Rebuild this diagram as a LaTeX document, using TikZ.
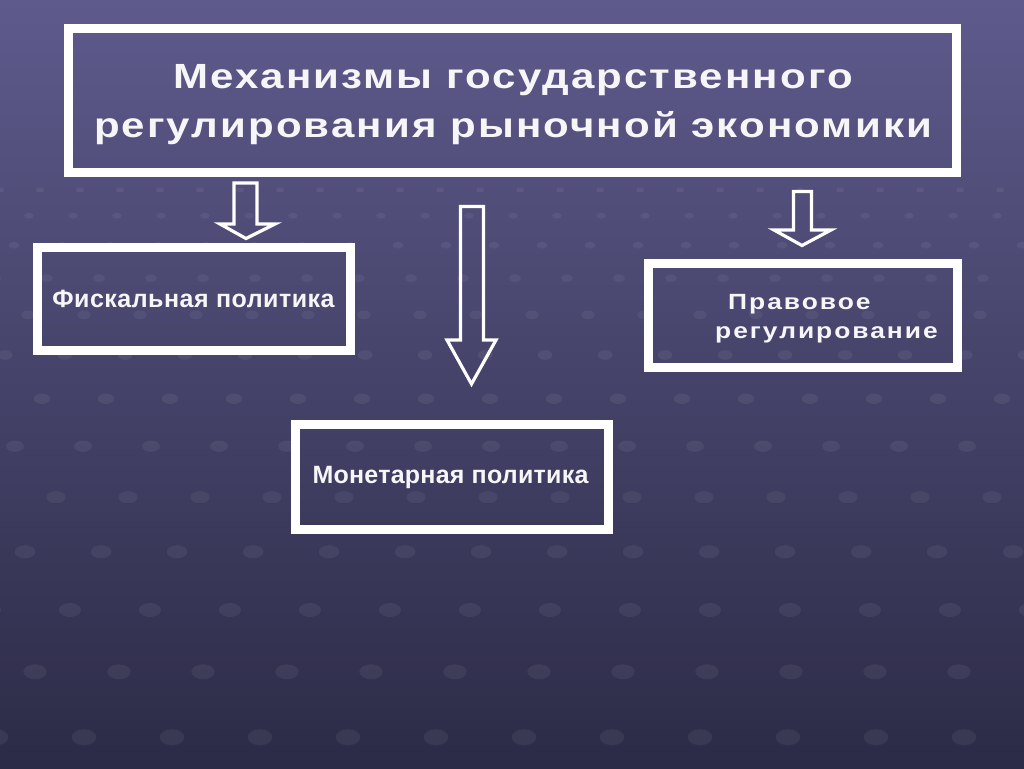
\documentclass[tikz,border=0pt]{standalone}
\usepackage{fontspec}
\setmainfont{Liberation Sans}
\newfontfamily\titlefont[FakeStretch=1.2,LetterSpace=6]{Liberation Sans}
\newfontfamily\lawfont[FakeStretch=1.2,LetterSpace=9]{Liberation Sans}
\newfontfamily\fiscfont[LetterSpace=2]{Liberation Sans}
\newfontfamily\monfont[LetterSpace=1]{Liberation Sans}
\definecolor{bgtop}{RGB}{94,90,140}
\definecolor{bgmid}{RGB}{70,68,110}
\definecolor{bgbot}{RGB}{44,43,70}
\definecolor{txt}{RGB}{246,246,248}
\tikzset{
  framebox/.style={draw=white,line width=9pt},
  blockarrow/.style={draw=white,line width=3.2pt,line join=miter},
  boxtext/.style={text=txt,inner sep=0pt},
  texdot/.style={fill=white,fill opacity=0.06}
}
\begin{document}
\begin{tikzpicture}[x=1pt,y=-1pt]
\useasboundingbox (0,0) rectangle (1024,768);
\shade[top color=bgtop,middle color=bgmid,bottom color=bgbot] (0,0) rectangle (1024,768);
% background texture (faint dot lattice)
\foreach \k in {0,...,13}{
  \pgfmathsetmacro{\yy}{190+\k*(24+1.8*\k)}
  \pgfmathsetmacro{\ss}{40+4*\k}
  \pgfmathsetmacro{\off}{mod(\k,2)*\ss/2+\k*7}
  \pgfmathsetmacro{\rx}{4+0.7*\k}
  \pgfmathsetmacro{\ry}{2.5+0.45*\k}
  \pgfmathtruncatemacro{\nn}{1100/\ss}
  \foreach \i in {-1,...,\nn}{
    \fill[texdot] ({\off+\i*\ss},\yy) ellipse [x radius=\rx, y radius=\ry];
  }
}
% boxes
\draw[framebox] (68.5,28.5) rectangle (956,172.5);
\draw[framebox] (37,247) rectangle (350.5,350.5);
\draw[framebox] (648,263) rectangle (957,367.5);
\draw[framebox] (295,424) rectangle (608,529);
% texts
\node[boxtext,font=\titlefont\bfseries\fontsize{35}{49}\selectfont,align=center,anchor=base] (title) at (513,137) {Механизмы государственного\\регулирования рыночной экономики};
\node[boxtext,font=\fiscfont\bfseries\fontsize{25}{30}\selectfont,anchor=base] (fisc) at (193.5,307) {Фискальная политика};
\node[boxtext,font=\monfont\bfseries\fontsize{25}{30}\selectfont,anchor=base] (mon) at (450.5,483) {Монетарная политика};
\node[boxtext,font=\lawfont\bfseries\fontsize{22}{29}\selectfont,anchor=base west,align=left] (law) at (715,338) {\hspace{13pt}Правовое\\регулирование};
% arrows
\draw[blockarrow] (234,183) -- (257,183) -- (257,224) -- (275,224) -- (246,238.5) -- (220,224) -- (234,224) -- cycle;
\draw[blockarrow] (460.5,206.5) -- (483.5,206.5) -- (483.5,340) -- (496,340) -- (471.5,384) -- (447,340) -- (460.5,340) -- cycle;
\draw[blockarrow] (793.5,191.5) -- (811.5,191.5) -- (811.5,230) -- (831,230) -- (802,245.5) -- (774,230) -- (793.5,230) -- cycle;
\end{tikzpicture}
\end{document}
